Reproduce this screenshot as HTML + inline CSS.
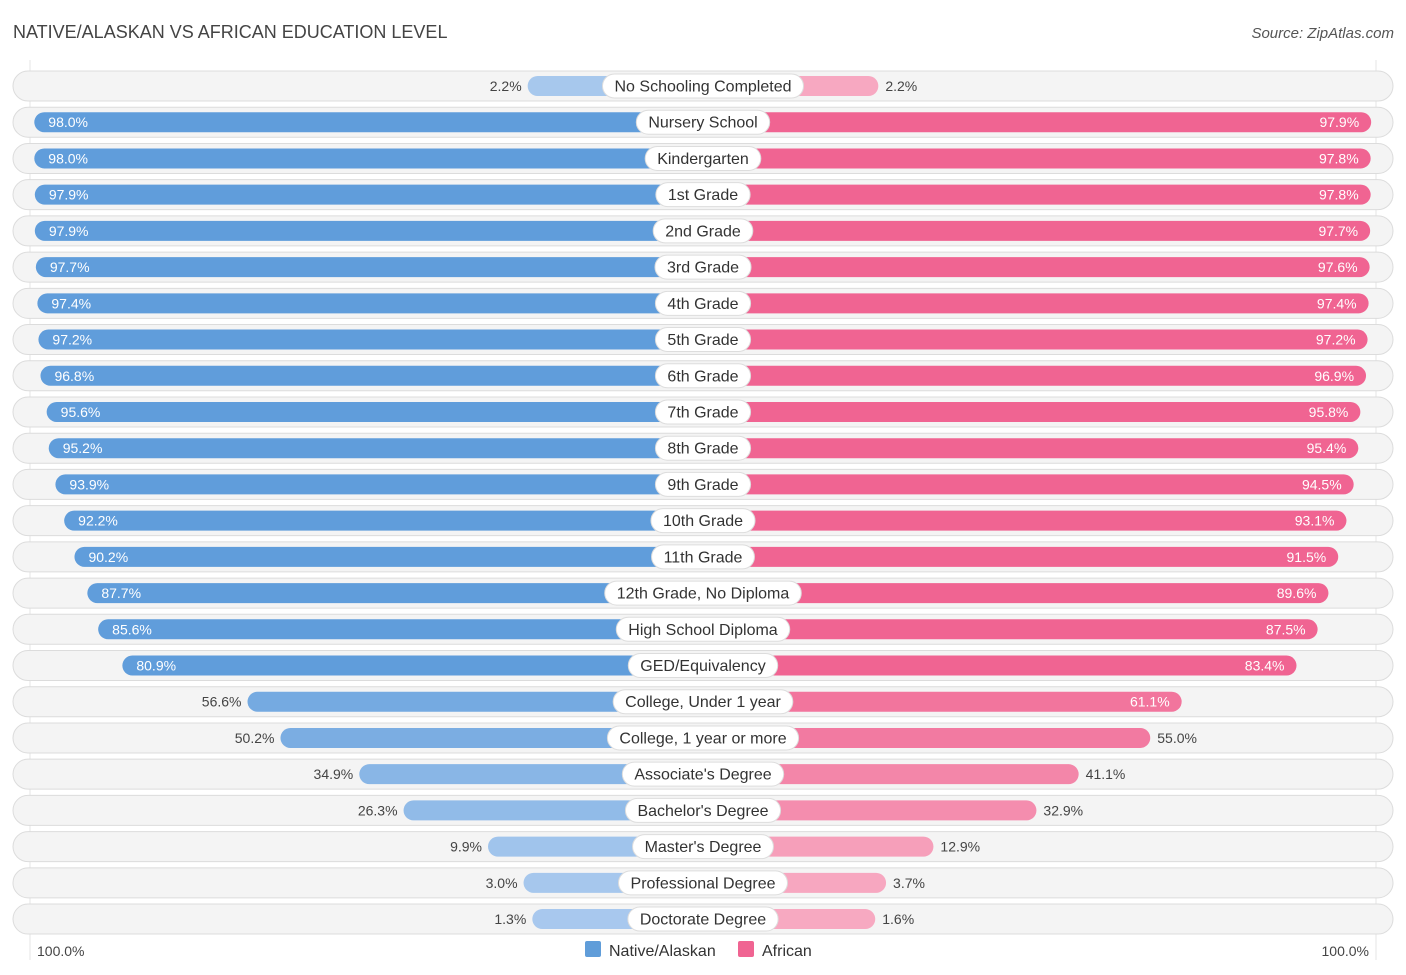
<!DOCTYPE html>
<html><head><meta charset="utf-8"><style>
body{margin:0;background:#fff;font-family:"Liberation Sans",sans-serif;}
#c{position:relative;width:1406px;height:975px;overflow:hidden}
.t{position:absolute;white-space:nowrap}
</style></head><body>
<div id="c">
<div class="t" style="left:13px;top:22px;font-size:18px;color:#444">NATIVE/ALASKAN VS AFRICAN EDUCATION LEVEL</div>
<div class="t" style="right:12px;top:25px;font-size:15px;color:#555;font-style:italic">Source: ZipAtlas.com</div>
<svg id="s" width="1406" height="975" style="position:absolute;left:0;top:0"></svg>
</div>
<script>
const categories=["No Schooling Completed","Nursery School","Kindergarten","1st Grade","2nd Grade","3rd Grade","4th Grade","5th Grade","6th Grade","7th Grade","8th Grade","9th Grade","10th Grade","11th Grade","12th Grade, No Diploma","High School Diploma","GED/Equivalency","College, Under 1 year","College, 1 year or more","Associate's Degree","Bachelor's Degree","Master's Degree","Professional Degree","Doctorate Degree"];
const nativeVals=[2.2,98.0,98.0,97.9,97.9,97.7,97.4,97.2,96.8,95.6,95.2,93.9,92.2,90.2,87.7,85.6,80.9,56.6,50.2,34.9,26.3,9.9,3.0,1.3];
const africanVals=[2.2,97.9,97.8,97.8,97.7,97.6,97.4,97.2,96.9,95.8,95.4,94.5,93.1,91.5,89.6,87.5,83.4,61.1,55.0,41.1,32.9,12.9,3.7,1.6];
const axisLabels=["100.0%","100.0%"];
const NS="http://www.w3.org/2000/svg",s=document.getElementById('s');
const cx=703,y0=86,dy=36.22,bh=20;
function w(v){return 164+5.15*v;}
function yr(i){return y0+i*dy;}
function mk(t,a,p){const e=document.createElementNS(NS,t);for(const k in a)e.setAttribute(k,a[k]);(p||s).appendChild(e);return e;}
function mix(a,b,t){return 'rgb('+a.map((x,i)=>Math.round(x+(b[i]-x)*t)).join(',')+')';}
const bl=[169,201,238],bd=[96,157,219],pl=[247,170,194],pd=[240,100,146];
mk('line',{x1:30,y1:60,x2:30,y2:960,stroke:'#e4e4e4'});
mk('line',{x1:1376,y1:60,x2:1376,y2:960,stroke:'#e4e4e4'});
categories.forEach((c,i)=>{
 const y=yr(i);
 const r=mk('rect',{x:13,y:y-15,width:1380,height:30,rx:15,fill:'#f4f4f4',stroke:'#dcdcdc','stroke-width':1});
 
 const nv=nativeVals[i],av=africanVals[i],nw=w(nv),aw=w(av);
 const b1=mk('rect',{x:cx-nw,y:y-bh/2,width:nw,height:bh,rx:10,fill:mix(bl,bd,Math.min(1,nv/80))});
 
 const b2=mk('rect',{x:cx,y:y-bh/2,width:aw,height:bh,rx:10,fill:mix(pl,pd,Math.min(1,av/80))});
 
 const inN=nv>60,inA=av>60;
 const t1=mk('text',{x:inN?cx-nw+14:cx-nw-6,y:y+5,'font-size':14,fill:inN?'#fff':'#444','text-anchor':inN?'start':'end'});
 t1.textContent=nv.toFixed(1)+'%';
 const t2=mk('text',{x:inA?cx+aw-12:cx+aw+7,y:y+5,'font-size':14,fill:inA?'#fff':'#444','text-anchor':inA?'end':'start'});
 t2.textContent=av.toFixed(1)+'%';
 const g=mk('g',{});
 const lt=mk('text',{x:cx,y:y+5.5,'font-size':16,fill:'#333','text-anchor':'middle'},g);lt.textContent=c;
 const lw=lt.getComputedTextLength()+24;
 const lr=mk('rect',{x:cx-lw/2,y:y-12,width:lw,height:24,rx:12,fill:'#fff',stroke:'#ddd'});
 g.insertBefore(lr,lt);
});
const a1=mk('text',{x:37,y:956,'font-size':14,fill:'#444'});a1.textContent=axisLabels[0];

const a2=mk('text',{x:1369,y:956,'font-size':14,fill:'#444','text-anchor':'end'});a2.textContent=axisLabels[1];

const l1=mk('rect',{x:585,y:941,width:16,height:16,rx:2,fill:'#609dd9'});

const l1t=mk('text',{x:609,y:956,'font-size':16,fill:'#333'});l1t.textContent='Native/Alaskan';

const l2=mk('rect',{x:738,y:941,width:16,height:16,rx:2,fill:'#f06492'});

const l2t=mk('text',{x:762,y:956,'font-size':16,fill:'#333'});l2t.textContent='African';

</script>
</body></html>
